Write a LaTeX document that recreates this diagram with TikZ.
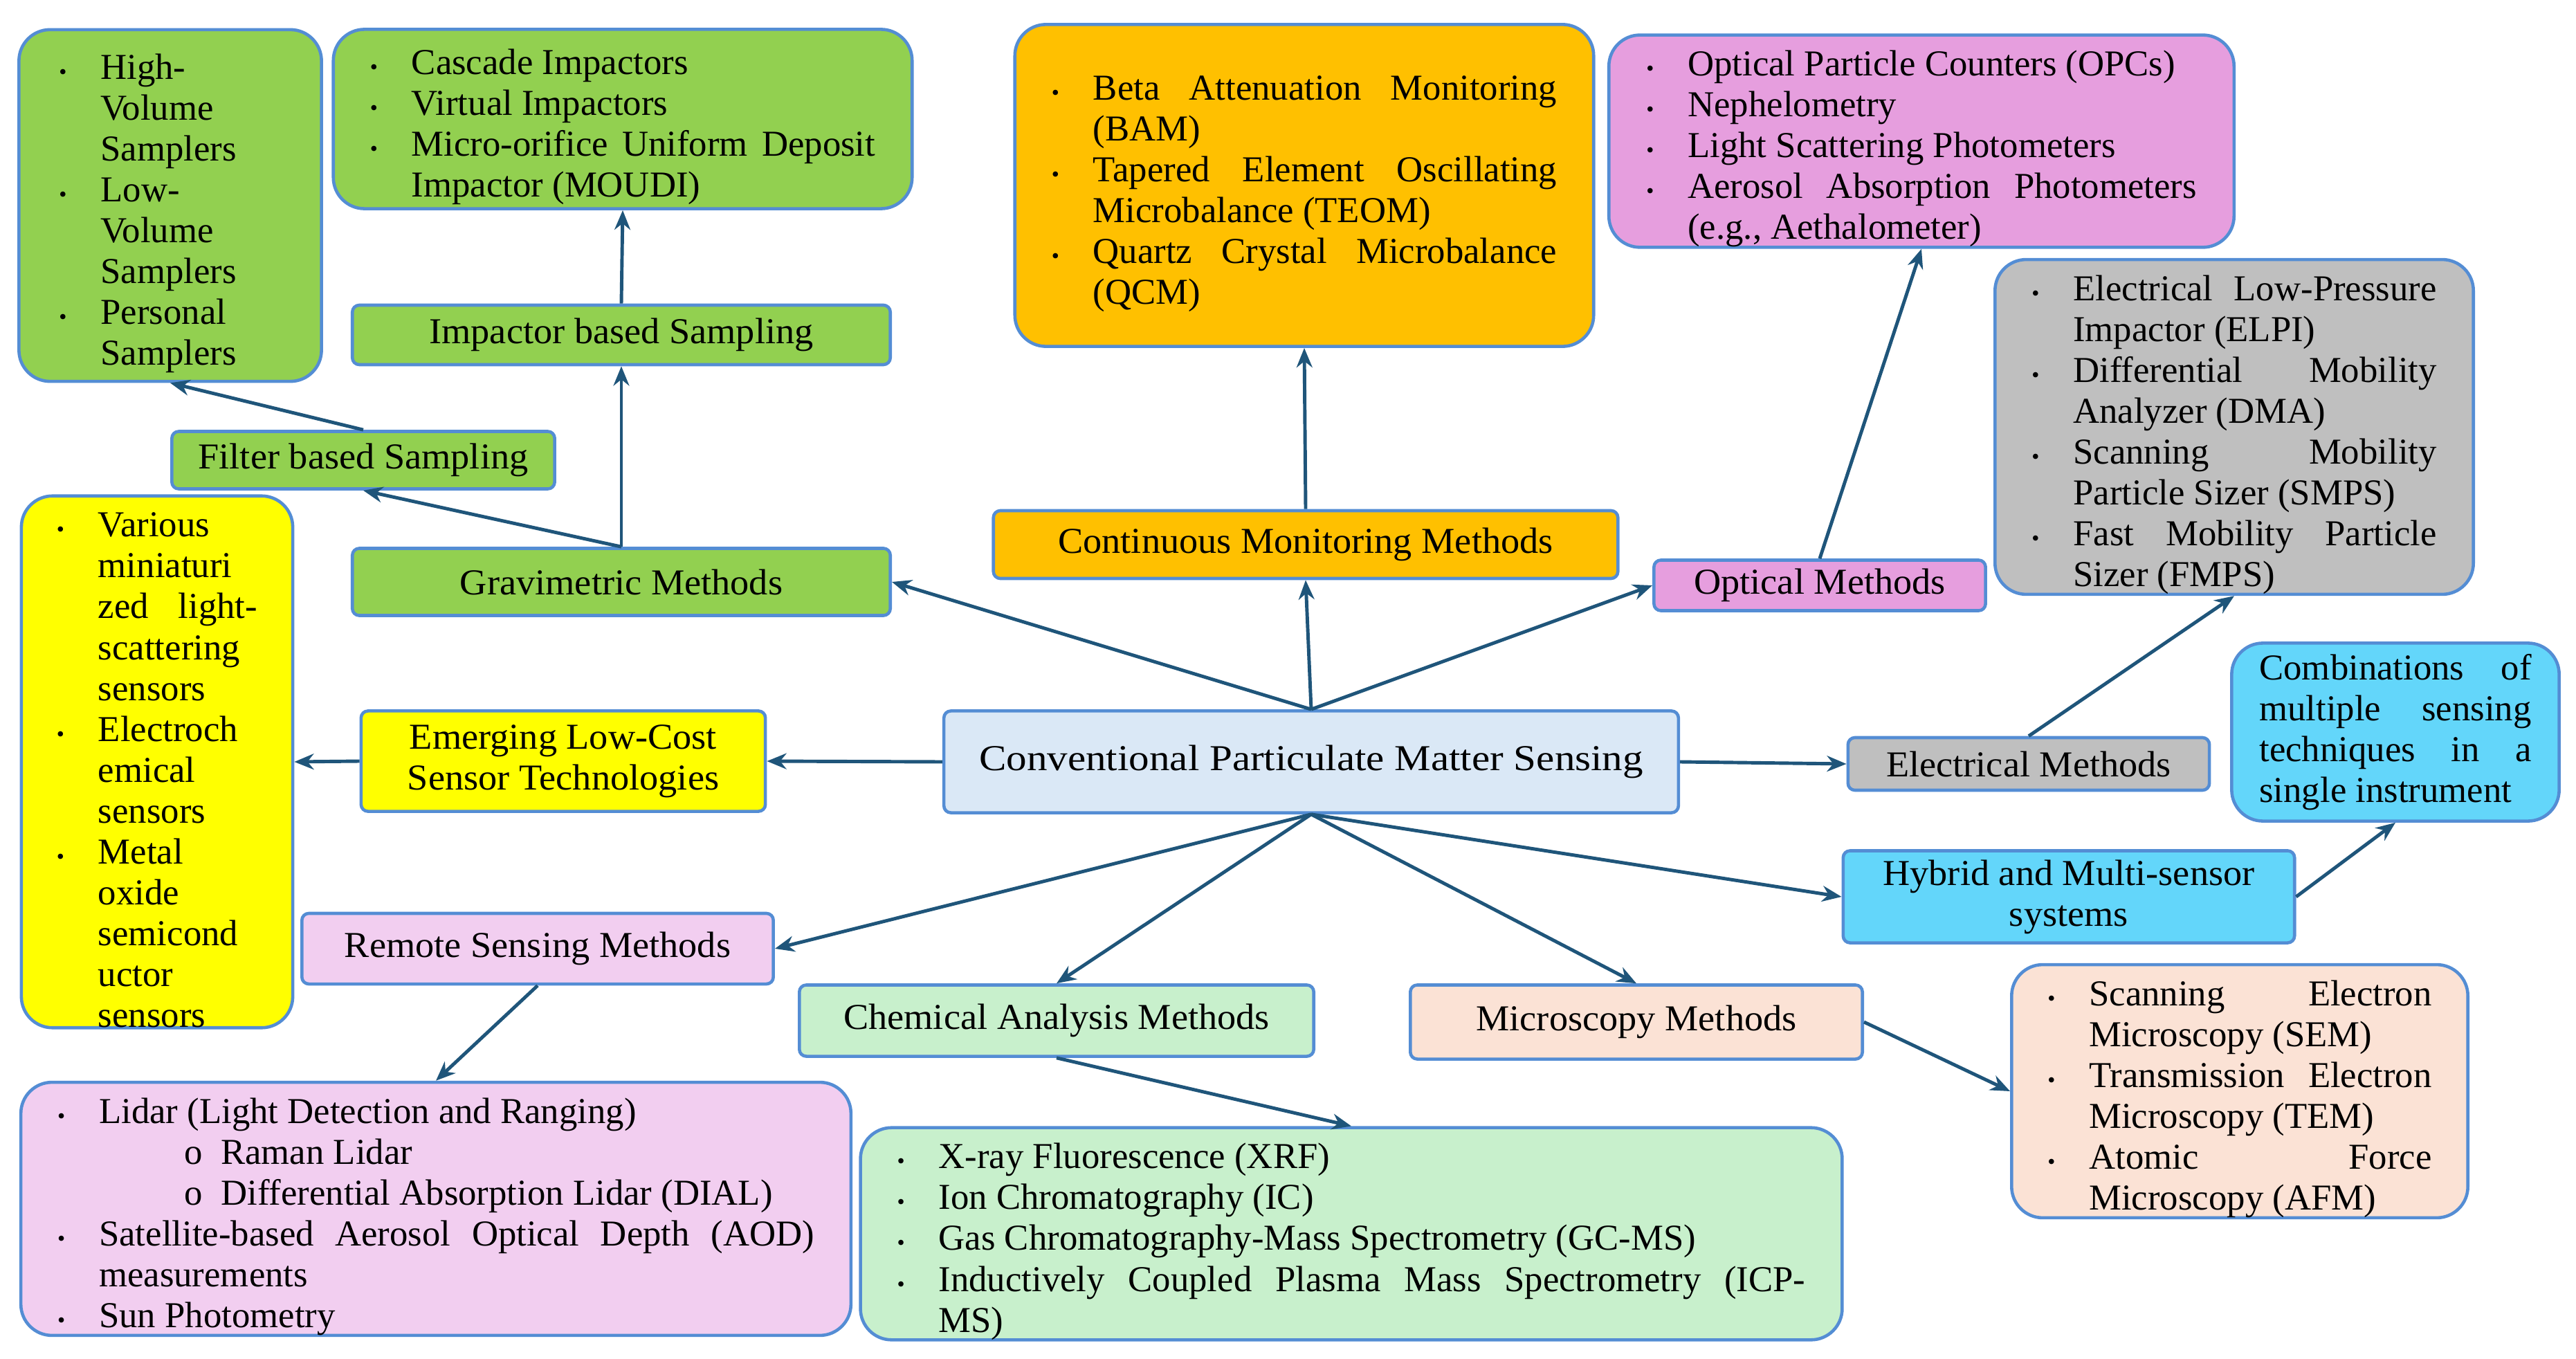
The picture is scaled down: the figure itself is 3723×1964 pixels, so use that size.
\documentclass[tikz,border=0pt]{standalone}
\usepackage{fontspec}
\setmainfont{Liberation Serif}
\newfontfamily\mthfont{Liberation Serif}[FakeStretch=1.03]
\newfontfamily\ctrfont{Liberation Serif}[FakeStretch=1.12]
\usepackage{enumitem}
\usetikzlibrary{arrows.meta}

\definecolor{edge}{RGB}{84,141,212}
\definecolor{arrowc}{RGB}{31,85,122}
\definecolor{grn}{RGB}{146,208,80}
\definecolor{orng}{RGB}{255,192,0}
\definecolor{violet}{RGB}{230,158,222}
\definecolor{lpink}{RGB}{242,206,240}
\definecolor{gry}{RGB}{191,191,191}
\definecolor{cyn}{RGB}{99,214,250}
\definecolor{peach}{RGB}{251,226,213}
\definecolor{lgrn}{RGB}{200,240,204}
\definecolor{yel}{RGB}{255,255,0}
\definecolor{lblue}{RGB}{218,232,246}

\setlist[itemize,1]{label={\small\textbullet}, leftmargin=0.6cm, labelwidth=0.6cm, labelsep=0pt, align=left,
  itemsep=0pt, topsep=0pt, parsep=0pt, partopsep=0pt}
\setlist[itemize,2]{label={o}, leftmargin=1.76cm, labelwidth=0.53cm, labelsep=0pt, align=left,
  itemsep=0pt, topsep=0pt, parsep=0pt, partopsep=0pt}
\tolerance=10000
\hyphenpenalty=10000
\exhyphenpenalty=10000

\begin{document}
\begin{tikzpicture}[x=0.01cm, y=-0.01cm,
    every node/.style={font=\fontsize{15}{16.8}\selectfont},
    lst/.style={draw=edge, line width=1.3pt, rounded corners=0.45cm, inner xsep=0.53cm, inner ysep=0pt, align=justify},
    mth/.style={draw=edge, line width=1.3pt, rounded corners=0.1cm, inner sep=0pt, align=center,
      font=\fontsize{15}{16.8}\mthfont},
    arr/.style={draw=arrowc, line width=1.4pt, -{Stealth[length=8pt,width=6.5pt]}}]
  \useasboundingbox (0,0) rectangle (3723,1964);

  \node[mth, fill=lblue, minimum width=10.61cm, minimum height=1.47cm, font=\fontsize{15}{16.8}\ctrfont] (ctr) at (1895,1101)
    {Conventional Particulate Matter Sensing};

  \node[mth, fill=grn, minimum width=7.77cm, minimum height=0.97cm] (grav) at (898,841) {Gravimetric Methods};
  \node[mth, fill=grn, minimum width=5.53cm, minimum height=0.83cm] (filt) at (525,665) {Filter based Sampling};
  \node[mth, fill=grn, minimum width=7.77cm, minimum height=0.86cm] (impS) at (898,484) {Impactor based Sampling};
  \node[lst, fill=grn, inner xsep=0.58cm, text width=3.21cm, minimum height=5.08cm] (hv) at (246,297) {%
    \begin{itemize}
      \item High-\newline Volume\newline Samplers
      \item Low-\newline Volume\newline Samplers
      \item Personal\newline Samplers
    \end{itemize}};
  \node[lst, fill=grn, text width=7.30cm, minimum height=2.59cm] (imp) at (900,172) {%
    \begin{itemize}
      \item Cascade Impactors
      \item Virtual Impactors
      \item Micro-orifice Uniform Deposit\linebreak Impactor (MOUDI)
    \end{itemize}};

  \node[mth, fill=orng, minimum width=9.02cm, minimum height=0.98cm] (contM) at (1887,787) {Continuous Monitoring Methods};
  \node[lst, fill=orng, text width=7.30cm, minimum height=4.65cm] (cont) at (1885,268) {%
    \begin{itemize}
      \item Beta Attenuation Monitoring\linebreak (BAM)
      \item Tapered Element Oscillating\linebreak Microbalance (TEOM)
      \item Quartz Crystal Microbalance\linebreak (QCM)
    \end{itemize}};

  \node[mth, fill=violet, minimum width=4.79cm, minimum height=0.73cm] (optM) at (2630,846) {Optical Methods};
  \node[lst, fill=violet, inner xsep=0.54cm, text width=7.95cm, minimum height=2.90cm] (opt) at (2777,204) {%
    \begin{itemize}
      \item Optical Particle Counters (OPCs)
      \item Nephelometry
      \item Light Scattering Photometers
      \item Aerosol Absorption Photometers\linebreak (e.g., Aethalometer)
    \end{itemize}};

  \node[mth, fill=gry, minimum width=5.22cm, minimum height=0.76cm] (elecM) at (2932,1104) {Electrical Methods};
  \node[lst, fill=gry, text width=5.85cm, minimum height=4.61cm] (elec) at (3229,617) {%
    \begin{itemize}
      \item Electrical Low-Pressure\linebreak Impactor (ELPI)
      \item Differential Mobility\linebreak Analyzer (DMA)
      \item Scanning Mobility\linebreak Particle Sizer (SMPS)
      \item Fast Mobility Particle\linebreak Sizer (FMPS)
    \end{itemize}};

  \node[mth, fill=cyn, minimum width=6.52cm, minimum height=1.33cm] (hyb) at (2990,1296) {Hybrid and Multi-sensor\\systems};
  \node[lst, fill=cyn, inner xsep=0.40cm, text width=3.93cm, minimum height=2.57cm] (comb) at (3462,1058)
    {Combinations of\linebreak multiple sensing\linebreak techniques in a\linebreak single instrument};

  \node[mth, fill=peach, minimum width=6.53cm, minimum height=1.07cm] (micM) at (2365,1477) {Microscopy Methods};
  \node[lst, fill=peach, inner xsep=0.52cm, text width=5.55cm, minimum height=3.45cm] (micL) at (3237,1577) {%
    \begin{itemize}
      \item Scanning Electron\linebreak Microscopy (SEM)
      \item Transmission Electron\linebreak Microscopy (TEM)
      \item Atomic Force\linebreak Microscopy (AFM)
    \end{itemize}};

  \node[mth, fill=lgrn, minimum width=7.43cm, minimum height=1.03cm] (chemM) at (1527,1475) {Chemical Analysis Methods};
  \node[lst, fill=lgrn, text width=13.12cm, minimum height=2.90cm] (chemL) at (1953,1783) {%
    \begin{itemize}
      \item X-ray Fluorescence (XRF)
      \item Ion Chromatography (IC)
      \item Gas Chromatography-Mass Spectrometry (GC-MS)
      \item Inductively Coupled Plasma Mass Spectrometry (ICP-\linebreak MS)
    \end{itemize}};

  \node[mth, fill=lpink, minimum width=6.81cm, minimum height=1.02cm] (remM) at (777,1371) {Remote Sensing Methods};
  \node[lst, fill=lpink, text width=10.93cm, minimum height=3.61cm] (remL) at (630,1747) {%
    \begin{itemize}
      \item Lidar (Light Detection and Ranging)
      \begin{itemize}
        \item Raman Lidar
        \item Differential Absorption Lidar (DIAL)
      \end{itemize}
      \item Satellite-based Aerosol Optical Depth (AOD)\linebreak measurements
      \item Sun Photometry
    \end{itemize}};

  \node[mth, fill=yel, minimum width=5.84cm, minimum height=1.45cm] (emer) at (814,1100) {Emerging Low-Cost\\Sensor Technologies};
  \node[lst, fill=yel, inner xsep=0.51cm, text width=2.90cm, minimum height=7.55cm] (sens) at (227,1101) {%
    \begin{itemize}
      \item Various\newline miniaturi\newline zed light-\linebreak scattering\newline sensors
      \item Electroch\newline emical\newline sensors
      \item Metal\newline oxide\newline semicond\newline uctor\newline sensors
    \end{itemize}};

  \draw[arr] (ctr.north) -- (grav.east);
  \draw[arr] (ctr.north) -- (contM.south);
  \draw[arr] (ctr.north) -- (optM.west);
  \draw[arr] (ctr.west) -- (emer.east);
  \draw[arr] (ctr.east) -- (elecM.west);
  \draw[arr] (ctr.south) -- (remM.east);
  \draw[arr] (ctr.south) -- (chemM.north);
  \draw[arr] (ctr.south) -- (micM.north);
  \draw[arr] (ctr.south) -- (hyb.west);

  \draw[arr] (grav.north) -- (impS.south);
  \draw[arr] (grav.north) -- (filt.south);
  \draw[arr] (impS.north) -- (imp.south);
  \draw[arr] (filt.north) -- (hv.south);
  \draw[arr] (contM.north) -- (cont.south);
  \draw[arr] (optM.north) -- (opt.south);
  \draw[arr] (elecM.north) -- (elec.south);
  \draw[arr] (hyb.east) -- (comb.south);
  \draw[arr] (micM.east) -- (micL.west);
  \draw[arr] (chemM.south) -- (chemL.north);
  \draw[arr] (remM.south) -- (remL.north);
  \draw[arr] (emer.west) -- (sens.east);
\end{tikzpicture}
\end{document}
